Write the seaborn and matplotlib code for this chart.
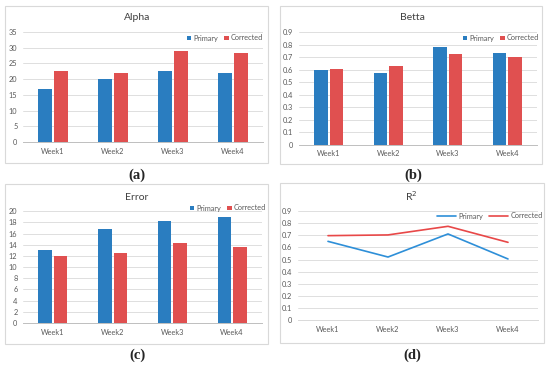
import matplotlib
matplotlib.use("Agg")
import matplotlib.pyplot as plt
from matplotlib.patches import Rectangle
import seaborn as sns
import pandas as pd

weeks = ["Week1", "Week2", "Week3", "Week4"]
series = ["Primary", "Corrected"]

alpha_primary = [16.9, 20.0, 22.5, 22.1]
alpha_corrected = [22.6, 22.1, 28.8, 28.2]
betta_primary = [0.596, 0.572, 0.785, 0.734]
betta_corrected = [0.606, 0.630, 0.724, 0.700]
error_primary = [13.1, 16.8, 18.3, 18.9]
error_corrected = [12.0, 12.5, 14.3, 13.6]
r2_primary = [0.650, 0.521, 0.711, 0.505]
r2_corrected = [0.697, 0.703, 0.774, 0.642]

BLUE = "#2a7dc0"
RED = "#e05050"
LBLUE = "#2e8fd8"
LRED = "#e84848"

sns.set_theme(style="white")
plt.rcParams["font.family"] = ["Lato", "DejaVu Sans"]

W, H = 550, 366
fig = plt.figure(figsize=(5.5, 3.66), dpi=100)


def rect(x0, y0, x1, y1):
    return [x0 / W, 1 - y1 / H, (x1 - x0) / W, (y1 - y0) / H]


def box(x0, y0, x1, y1):
    fig.patches.append(Rectangle((x0 / W, 1 - y1 / H), (x1 - x0) / W, (y1 - y0) / H,
                                 transform=fig.transFigure, fill=False,
                                 edgecolor="#d9d9d9", linewidth=0.8))


def style(ax, ymax, step, fmt):
    ax.set_ylim(0, ymax)
    ticks = [round(i * step, 6) for i in range(int(round(ymax / step)) + 1)]
    ax.set_yticks(ticks)
    ax.set_yticklabels([fmt(t) for t in ticks])
    ax.set_xlim(-0.5, 3.5)
    ax.grid(axis="y", color="#d9d9d9", linewidth=0.6)
    ax.set_axisbelow(True)
    for s in ["top", "right", "left"]:
        ax.spines[s].set_visible(False)
    ax.spines["bottom"].set_color("#bfbfbf")
    ax.spines["bottom"].set_linewidth(0.7)
    ax.tick_params(axis="both", length=0, labelsize=5.3, colors="#595959", pad=4)
    ax.set_xlabel("")
    ax.set_ylabel("")


def add_legend(ax, center, **kw):
    h, l = ax.get_legend_handles_labels()
    ax.legend(h, l, ncol=2, frameon=False, fontsize=5.3, handletextpad=0.3,
              columnspacing=0.8, loc="center",
              bbox_to_anchor=(center[0] / W, 1 - center[1] / H),
              bbox_transform=fig.transFigure, labelcolor="#595959",
              borderaxespad=0, borderpad=0, **kw)


def bar_panel(axrect, prim, corr, ymax, step, fmt, leg_xy):
    ax = fig.add_axes(axrect)
    df = pd.DataFrame({
        "week": weeks * 2,
        "series": [series[0]] * 4 + [series[1]] * 4,
        "value": list(prim) + list(corr),
    })
    sns.barplot(data=df, x="week", y="value", hue="series", hue_order=series,
                palette=[BLUE, RED], saturation=1, width=0.52, gap=0.12, ax=ax,
                edgecolor="none", legend=True)
    style(ax, ymax, step, fmt)
    add_legend(ax, leg_xy, handlelength=0.6, handleheight=0.6)
    return ax


def ftxt(x, y, s, **kw):
    fig.text(x / W, 1 - y / H, s, ha="center", va="center", **kw)


# Panel a
box(5, 6, 268, 163)
bar_panel(rect(23, 32, 263, 142), alpha_primary, alpha_corrected, 35, 5,
          lambda v: f"{int(v)}", (225, 38))
ftxt(137, 17, "Alpha", fontsize=7.5, color="#404040")
ftxt(137, 175, "(a)", fontsize=10.5, fontweight="bold", family="Liberation Serif")

# Panel b
box(280, 6, 542, 164)
bar_panel(rect(299, 32.3, 537, 144.7), betta_primary, betta_corrected, 0.9, 0.1,
          lambda v: "0" if v == 0 else f"{v:.1f}", (501, 38))
ftxt(412, 17, "Betta", fontsize=7.5, color="#404040")
ftxt(413, 175, "(b)", fontsize=10.5, fontweight="bold", family="Liberation Serif")

# Panel c
box(5, 184, 268, 344)
bar_panel(rect(23, 211.3, 262, 323), error_primary, error_corrected, 20, 2,
          lambda v: f"{int(v)}", (228, 208))
ftxt(137, 197, "Error", fontsize=7.5, color="#404040")
ftxt(137, 355, "(c)", fontsize=10.5, fontweight="bold", family="Liberation Serif")

# Panel d
box(280, 183, 544, 343)
axd = fig.add_axes(rect(298, 211, 538, 320.3))
dfl = pd.DataFrame({
    "week": weeks * 2,
    "series": [series[0]] * 4 + [series[1]] * 4,
    "value": list(r2_primary) + list(r2_corrected),
})
sns.lineplot(data=dfl, x="week", y="value", hue="series", hue_order=series,
             palette=[LBLUE, LRED], linewidth=1.2, ax=axd, sort=False)
style(axd, 0.9, 0.1, lambda v: "0" if v == 0 else f"{v:.1f}")
axd.spines["bottom"].set_color("#d9d9d9")
add_legend(axd, (490, 216), handlelength=2.6)
ftxt(411, 196, "R$^2$", fontsize=7.5, color="#404040")
ftxt(412, 355, "(d)", fontsize=10.5, fontweight="bold", family="Liberation Serif")

fig.savefig("out.png", dpi=100, facecolor="white")
